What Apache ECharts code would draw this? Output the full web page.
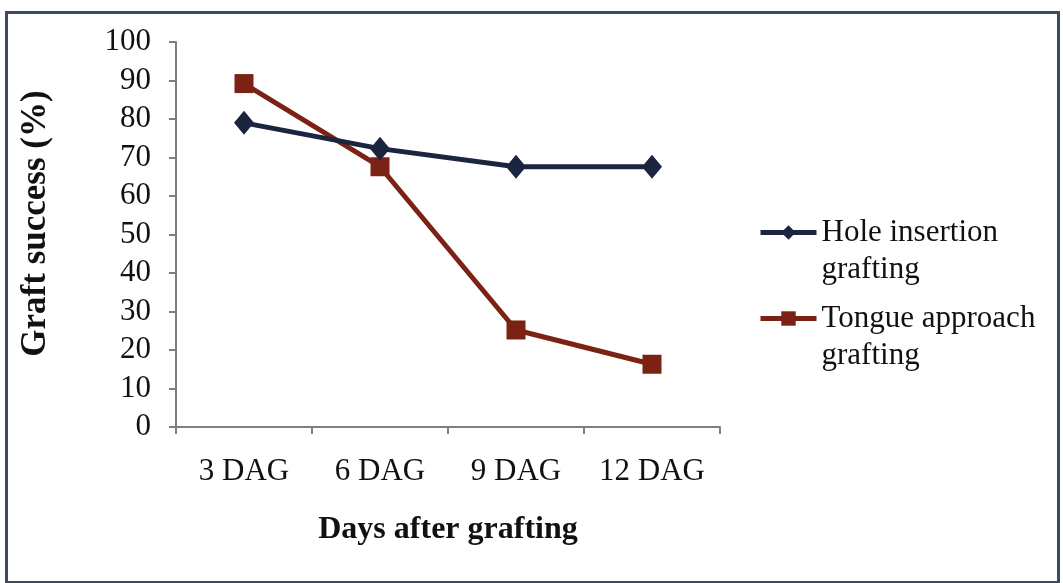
<!DOCTYPE html>
<html>
<head>
<meta charset="utf-8">
<style>
  html, body { margin: 0; padding: 0; background: #ffffff; }
  #chart { width: 1063px; height: 583px; }
</style>
<script src="https://cdn.jsdelivr.net/npm/echarts@6/dist/echarts.min.js"></script>
</head>
<body>
<div id="chart"></div>
<script>
// Graft success over days after grafting, two grafting methods
const categories = ['3 DAG', '6 DAG', '9 DAG', '12 DAG'];
const holeInsertion = [79, 72.3, 67.6, 67.6];
const tongueApproach = [89.2, 67.6, 25.2, 16.3];
const seriesNames = ['Hole insertion grafting', 'Tongue approach grafting'];
const legendLines = {
  'Hole insertion grafting': ['Hole insertion', 'grafting'],
  'Tongue approach grafting': ['Tongue approach', 'grafting']
};
const yTicks = { min: 0, max: 100, interval: 10 };

const FONT = '"Liberation Serif", "Times New Roman", serif';
const HOLE_COLOR = '#1b2540';
const TONGUE_COLOR = '#7b2214';

const chart = echarts.init(document.getElementById('chart'), null, { renderer: 'canvas' });

// One legend block per series; a blank first line keeps the icon level with the first text line
function legendBlock(name, top) {
  return {
    data: [name],
    orient: 'vertical',
    left: 758,
    top: top,
    itemWidth: 56,
    itemHeight: 18,
    itemGap: 0,
    padding: 0,
    selectedMode: false,
    lineStyle: { width: 5 },
    formatter: function (n) { return '\n' + legendLines[n].join('\n'); },
    textStyle: {
      fontFamily: FONT,
      fontSize: 31,
      color: '#111111',
      lineHeight: 37
    }
  };
}

chart.setOption({
  backgroundColor: '#ffffff',
  animation: false,
  graphic: [{
    type: 'rect',
    left: 4,
    top: 10,
    shape: { width: 1052, height: 570 },
    style: { fill: 'none', stroke: '#3d4b5c', lineWidth: 3 },
    silent: true
  }],
  legend: [
    legendBlock(seriesNames[0], 177),
    legendBlock(seriesNames[1], 263)
  ],
  grid: { left: 176, top: 42, width: 544, height: 385, containLabel: false },
  xAxis: {
    type: 'category',
    data: categories,
    boundaryGap: true,
    axisLine: { lineStyle: { color: '#7f7f7f', width: 2 } },
    axisTick: { show: true, interval: 0, length: 7, alignWithLabel: false, lineStyle: { color: '#7f7f7f', width: 2 } },
    axisLabel: { interval: 0, fontFamily: FONT, fontSize: 31, color: '#111111', margin: 29 },
    name: 'Days after grafting',
    nameLocation: 'middle',
    nameGap: 87,
    nameTextStyle: { fontFamily: FONT, fontSize: 32, fontWeight: 'bold', color: '#111111' }
  },
  yAxis: {
    type: 'value',
    min: yTicks.min,
    max: yTicks.max,
    interval: yTicks.interval,
    splitLine: { show: false },
    axisLine: { show: true, lineStyle: { color: '#7f7f7f', width: 2 } },
    axisTick: { show: true, length: 7, lineStyle: { color: '#7f7f7f', width: 2 } },
    axisLabel: { fontFamily: FONT, fontSize: 31, color: '#111111', margin: 25 },
    name: 'Graft success (%)',
    nameLocation: 'middle',
    nameGap: 123,
    nameTextStyle: {
      fontFamily: FONT, fontSize: 35, fontWeight: 'bold', color: '#111111',
      padding: [0, 0, 0, 22]
    }
  },
  series: [
    {
      name: seriesNames[0],
      type: 'line',
      data: holeInsertion,
      symbol: 'diamond',
      symbolSize: [20, 24],
      lineStyle: { color: HOLE_COLOR, width: 5 },
      itemStyle: { color: HOLE_COLOR },
      z: 3
    },
    {
      name: seriesNames[1],
      type: 'line',
      data: tongueApproach,
      symbol: 'rect',
      symbolSize: 19,
      lineStyle: { color: TONGUE_COLOR, width: 5 },
      itemStyle: { color: TONGUE_COLOR },
      z: 2
    }
  ]
});
</script>
</body>
</html>
